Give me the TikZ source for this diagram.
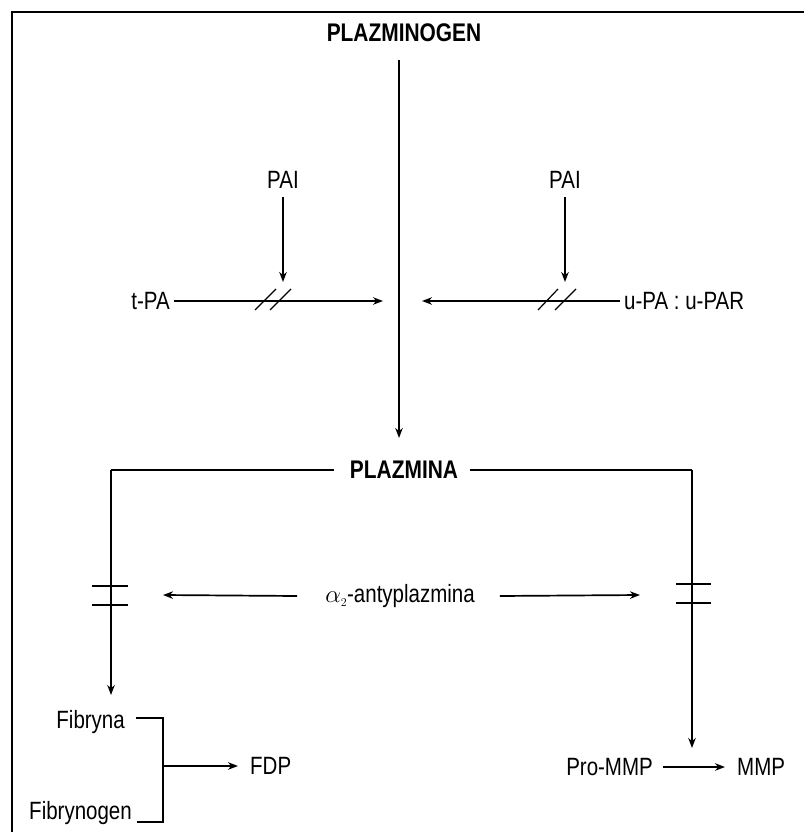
\documentclass[tikz,border=0pt]{standalone}
\usepackage{fontspec}
\setmainfont{Liberation Sans}[FakeStretch=0.82]
\usetikzlibrary{arrows.meta}
\begin{document}
\begin{tikzpicture}[x=1pt,y=-1pt,
  lbl/.style={font=\fontsize{25}{29}\selectfont, inner sep=0pt},
  big/.style={font=\fontsize{25.5}{30}\selectfont\bfseries, inner sep=0pt},
  ln/.style={line width=1.7pt},
  arr/.style={ln,-{Stealth[length=10pt,width=7.5pt]}},
  thin/.style={line width=1.2pt}]
\useasboundingbox (0,0) rectangle (804,832);
% frame
\draw[line width=2pt] (12,832) -- (12,12) -- (804,12);
% nodes
\node[big] (pg) at (404,33) {PLAZMINOGEN};
\node[big] (pm) at (404,470) {PLAZMINA};
\node[lbl] (pai1) at (283,180) {PAI};
\node[lbl] (pai2) at (565,180) {PAI};
\node[lbl,anchor=east] (tpa) at (170,301) {t-PA};
\node[lbl,anchor=west] (upa) at (624,301) {u-PA : u-PAR};
\node[lbl] (anti) at (400,596) {$\alpha_{\scriptscriptstyle 2}$-antyplazmina};
\node[lbl,anchor=east] (fib) at (125,722) {Fibryna};
\node[lbl,anchor=east] (fibg) at (132,813) {Fibrynogen};
\node[lbl,anchor=west] (fdp) at (250,766) {FDP};
\node[lbl,anchor=east] (pro) at (653,767) {Pro-MMP};
\node[lbl,anchor=west] (mmp) at (737,767) {MMP};
% coordinates
\coordinate (c1) at (399,60);
\coordinate (c2) at (399,438);
\coordinate (t1) at (283,282);
\coordinate (t2) at (565,282);
\coordinate (tpaend) at (383,301);
\coordinate (upaend) at (422,301);
\coordinate (lc) at (111,470);
\coordinate (lt) at (111,695);
\coordinate (rc) at (692,470);
\coordinate (rt) at (692,748);
\coordinate (al) at (163,595);
\coordinate (ar) at (640,595);
\coordinate (b1) at (163,718);
\coordinate (b2) at (163,822);
\coordinate (bm) at (163,766);
% connectors
\draw[arr] (c1) -- (c2);
\draw[arr] (pai1.south) ++(0,8) -- (t1);
\draw[arr] (pai2.south) ++(0,8) -- (t2);
\draw[arr] (tpa.east) ++(4,0) -- (tpaend);
\draw[arr] (upa.west) ++(-4,0) -- (upaend);
\draw[thin] (255,310) -- (276,289);
\draw[thin] (270,310) -- (291,289);
\draw[thin] (538,310) -- (558,289);
\draw[thin] (555,310) -- (576,289);
\draw[ln] (pm.west) ++(-16,0) -- (lc);
\draw[arr] (lc) -- (lt);
\draw[ln] (pm.east) ++(12,0) -- (rc);
\draw[arr] (rc) -- (rt);
\draw[thin] (92,586) -- (128,586);
\draw[thin] (92,605) -- (128,605);
\draw[thin] (676,584) -- (711,584);
\draw[thin] (676,603) -- (711,603);
\draw[arr] (anti.west) ++(-28,0) -- (al);
\draw[arr] (anti.east) ++(25,0) -- (ar);
\draw[ln] (fib.east) ++(11,-4) -- (b1) -- (b2) -- ([xshift=5pt]fibg.east |- b2);
\draw[arr] (bm) -- (238,766);
\draw[arr] (pro.east) ++(10,0) -- (725,767);
\end{tikzpicture}
\end{document}
